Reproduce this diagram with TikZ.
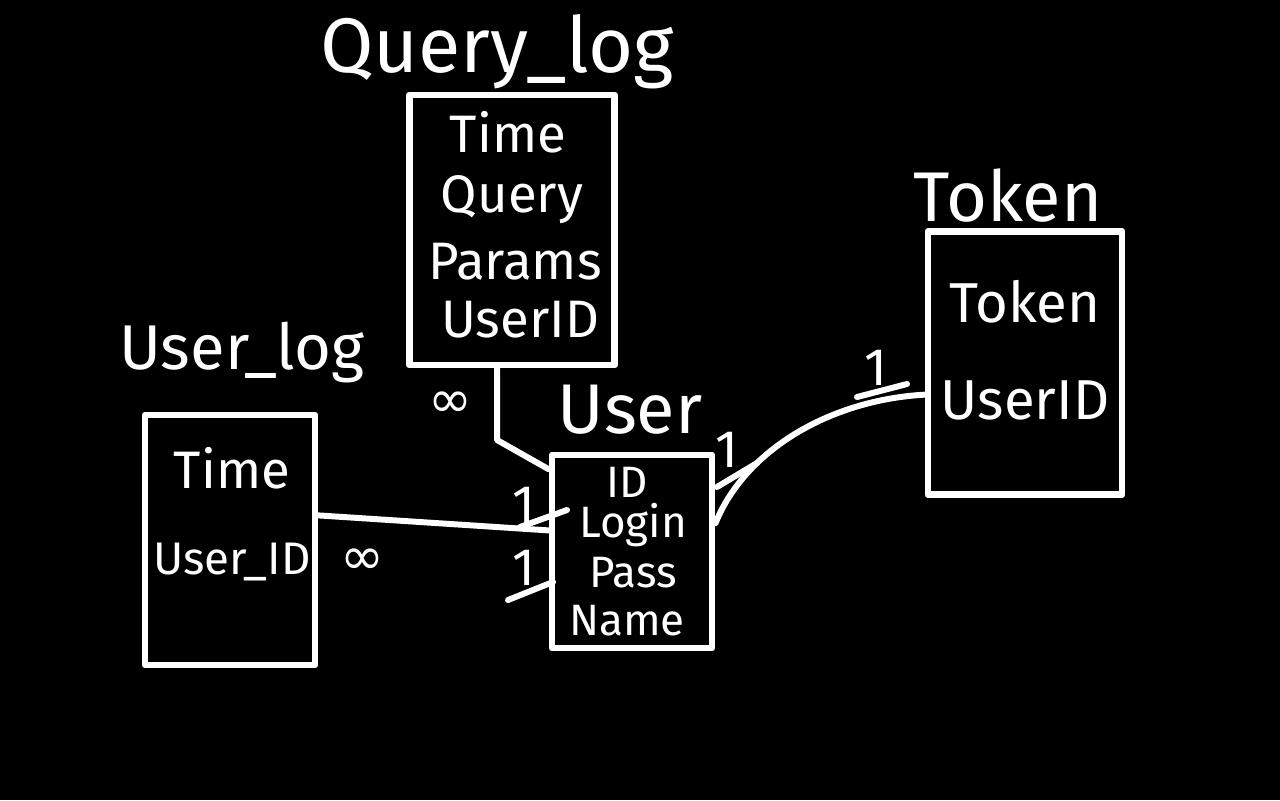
\documentclass[tikz,border=0pt]{standalone}
\usepackage{fontspec}
\setmainfont{Fira Sans}
\newfontfamily\symfont{DejaVu Sans}
\usepackage{tikz}

\begin{document}
\begin{tikzpicture}[x=0.01cm, y=-0.01cm, color=white,
  line width=1.7pt, line cap=round, line join=round,
  entity/.style={draw, line width=1.9pt, inner sep=0pt},
  title/.style={font=\fontsize{20}{24}\selectfont},
  attr/.style={font=\fontsize{15}{18}\selectfont},
  small attr/.style={font=\fontsize{12.5}{15}\selectfont},
  card/.style={font=\fontsize{15}{18}\selectfont}]

% page 1280x800 px; 1px = 0.01cm, y runs down
\fill[black] (0,0) rectangle (1280,800);
\useasboundingbox (0,0) rectangle (1280,800);

% boxes: (410,95)-(615,365) -> centre (512,230), 205x270
\node[entity, minimum width=2.05cm, minimum height=2.7cm] (qlog) at (512,230) {};
% (552,455)-(712,648) -> centre (632,551.5), 160x193
\node[entity, minimum width=1.6cm, minimum height=1.93cm] (user) at (632,551.5) {};
% (145,415)-(315,665) -> centre (230,540), 170x250
\node[entity, minimum width=1.7cm, minimum height=2.5cm] (ulog) at (230,540) {};
% (928,232)-(1122,495) -> centre (1025,363), 194x263
\node[entity, minimum width=1.94cm, minimum height=2.63cm] (token) at (1025,363) {};

\node[title, font=\fontsize{22}{26}\selectfont] (qlogT) at (497,52) {Query\_log};
\node[title] (userT) at (630,410) {User};
\node[title, font=\fontsize{18}{22}\selectfont] (ulogT) at (242,352) {User\_log};
\node[title] (tokenT) at (1008,196) {Token};

\node[attr] (qTime) at (508,132) {Time};
\node[attr] (qQuery) at (512,200) {Query};
\node[attr] (qParams) at (515,262) {Params};
\node[attr] (qUserID) at (520,320) {UserID};

\node[small attr] (uID) at (627,482) {ID};
\node[small attr] (uLogin) at (633,525) {Login};
\node[small attr] (uPass) at (633,573) {Pass};
\node[small attr] (uName) at (627,621) {Name};

\node[attr] (lTime) at (232,468) {Time};
\node[attr, font=\fontsize{13}{16}\selectfont] (lUserID) at (232,562) {User\_ID};

\node[attr, font=\fontsize{16}{19}\selectfont] (tToken) at (1025,302) {Token};
\node[attr, font=\fontsize{16}{19}\selectfont] (tUserID) at (1025,400) {UserID};

% Query_log -- User
\coordinate (qbend) at (497,440);
\draw (qlog.south -| qbend) -- (qbend) -- ([yshift=-5pt]user.north west);
\node[card] (qInf) at (450,405) {\symfont ∞};

% User_log -- User
\draw ([yshift=7pt]ulog.east) -- ([yshift=6pt]user.west);
\node[card] (lInf) at (362,562) {\symfont ∞};
\node[card] (lOne) at (524,505) {1};
\draw (520,527) -- (567,510);
\node[card] (lOne2) at (524,568) {1};
\draw (508,600) -- (553,582);

% User -- Token
\draw ([yshift=8pt]user.east) .. controls (745,450) and (830,400) .. ([yshift=-9pt]token.west);
\node[card] (uOne) at (727,450) {1};
\draw (717,487) -- (757,463);
\node[card] (tOne) at (876,368) {1};
\draw (857,397) -- (907,384);

\end{tikzpicture}
\end{document}
